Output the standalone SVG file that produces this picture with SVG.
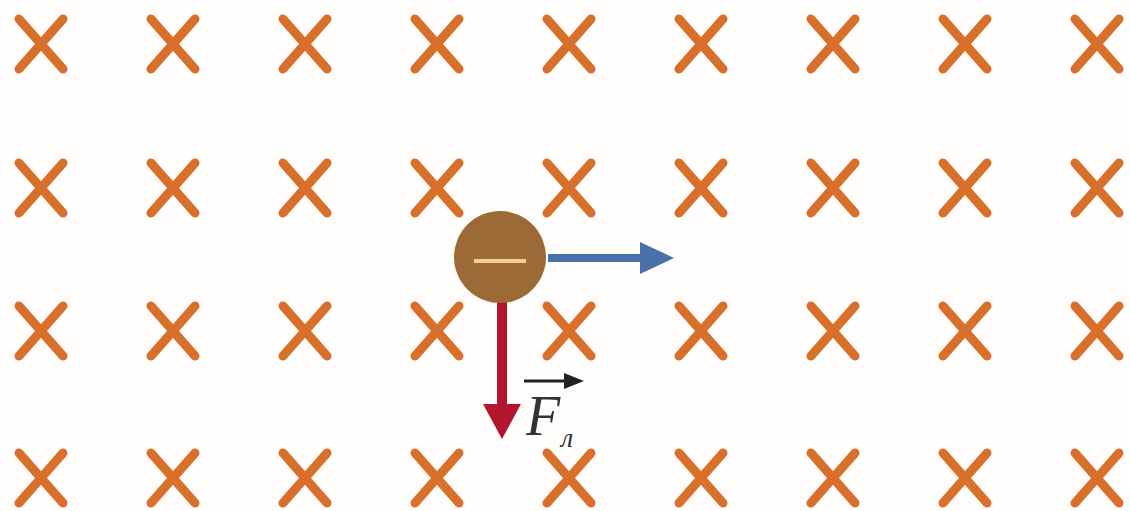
<svg xmlns="http://www.w3.org/2000/svg" width="1130" height="511" viewBox="0 0 1130 511">
<defs>
<style>
.x{stroke:#d8702c;stroke-width:9;stroke-linecap:round;fill:none}
.lbl{font-family:"Liberation Serif",serif;font-style:italic;fill:#333}
</style>
<g id="xm"><path class="x" d="M-22,-25 L22,25 M22,-25 L-22,25"/></g>
</defs>
<rect width="1130" height="511" fill="#fffdfb"/>
<g id="field">
<use href="#xm" x="41" y="44"/><use href="#xm" x="173" y="44"/><use href="#xm" x="305" y="44"/><use href="#xm" x="437" y="44"/><use href="#xm" x="569" y="44"/><use href="#xm" x="701" y="44"/><use href="#xm" x="833" y="44"/><use href="#xm" x="965" y="44"/><use href="#xm" x="1097" y="44"/>
<use href="#xm" x="41" y="188"/><use href="#xm" x="173" y="188"/><use href="#xm" x="305" y="188"/><use href="#xm" x="437" y="188"/><use href="#xm" x="569" y="188"/><use href="#xm" x="701" y="188"/><use href="#xm" x="833" y="188"/><use href="#xm" x="965" y="188"/><use href="#xm" x="1097" y="188"/>
<use href="#xm" x="41" y="331"/><use href="#xm" x="173" y="331"/><use href="#xm" x="305" y="331"/><use href="#xm" x="437" y="331"/><use href="#xm" x="569" y="331"/><use href="#xm" x="701" y="331"/><use href="#xm" x="833" y="331"/><use href="#xm" x="965" y="331"/><use href="#xm" x="1097" y="331"/>
<use href="#xm" x="41" y="478"/><use href="#xm" x="173" y="478"/><use href="#xm" x="305" y="478"/><use href="#xm" x="437" y="478"/><use href="#xm" x="569" y="478"/><use href="#xm" x="701" y="478"/><use href="#xm" x="833" y="478"/><use href="#xm" x="965" y="478"/><use href="#xm" x="1097" y="478"/>
</g>
<g id="connectors">
<path d="M548,258 L645,258" stroke="#4a70aa" stroke-width="8"/>
<path d="M640,242 L674,258 L640,274 Z" fill="#4a70aa"/>
<path d="M502,298 L502,410" stroke="#b3142e" stroke-width="10"/>
<path d="M483,404 L502,439 L521,404 Z" fill="#b3142e"/>
</g>
<g id="particle">
<circle cx="500" cy="257" r="46" fill="#9c6a36"/>
<path d="M474,261 L526,261" stroke="#f3cf98" stroke-width="4"/>
</g>
<g id="label">
<path d="M524,381 L568,381" stroke="#222" stroke-width="3"/>
<path d="M564,373 L584,381 L564,389 Z" fill="#222"/>
<text class="lbl" x="526" y="435" font-size="56">F</text>
<text class="lbl" x="561" y="447" font-size="28">л</text>
</g>
</svg>
